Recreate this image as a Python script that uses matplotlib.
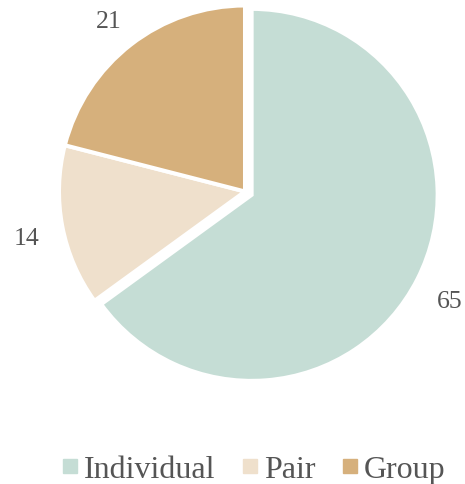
import matplotlib
matplotlib.use("Agg")
import matplotlib.pyplot as plt
from matplotlib.lines import Line2D
from matplotlib.transforms import ScaledTranslation

categories = ["Individual", "Pair", "Group"]
values = [65, 14, 21]
colors = ["#c5ddd5", "#efe0cc", "#d6b07c"]
explode = [0.04, 0, 0]
text_color = "#555555"

plt.rcParams['font.family'] = ['Liberation Serif', 'DejaVu Serif']

W, H = 465, 485
fig = plt.figure(figsize=(W / 100, H / 100), dpi=100)
ax = fig.add_axes([0, 0, 1, 1])

cx, cy, R = 245, 192.5, 186
wedges, texts = ax.pie(values, labels=[str(v) for v in values], colors=colors,
                       startangle=90, counterclock=False, explode=explode,
                       labeldistance=1.195,
                       wedgeprops=dict(edgecolor="white", linewidth=2.9),
                       textprops=dict(fontsize=18.5, color=text_color))
shift = ScaledTranslation(0, -5 / 100, fig.dpi_scale_trans)
for t in texts:
    t.set_ha("center")
    t.set_va("center")
    t.set_transform(t.get_transform() + shift)

ax.set_aspect("auto")
ax.set_xlim(-cx / R, (W - cx) / R)
ax.set_ylim((cy - H) / R, cy / R)
ax.axis("off")

handles = [Line2D([], [], linestyle="none", marker="s", markersize=9.4,
                  markerfacecolor=c, markeredgecolor=c) for c in colors]
fig.legend(handles, categories, loc="center", bbox_to_anchor=(253 / W, 1 - 470 / H),
           ncol=3, frameon=False, fontsize=23, handlelength=0.6,
           handletextpad=0.13, columnspacing=0.78, labelcolor=text_color,
           borderpad=0, borderaxespad=0)

fig.savefig("out.png", dpi=100, facecolor="white")
